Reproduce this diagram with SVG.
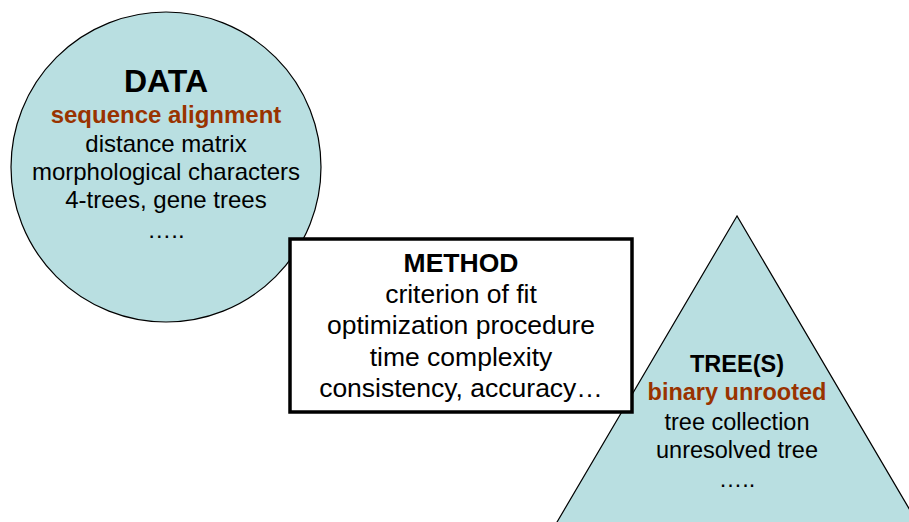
<svg xmlns="http://www.w3.org/2000/svg" width="909" height="522" viewBox="0 0 909 522">
<style>
.shape{fill:#B9DFE1;stroke:#000;stroke-width:1.2}
.box{fill:#fff;stroke:#000;stroke-width:3.5}
text{font-family:"Liberation Sans",Arial,sans-serif;text-anchor:middle;fill:#000}
.b{font-weight:bold}
.acc{fill:#993300;font-weight:bold}
</style>
<rect width="909" height="522" fill="#fff"/>
<g id="connectors"></g>
<g id="data">
<circle class="shape" cx="166" cy="167" r="155"/>
<text class="b" x="166" y="92" font-size="32">DATA</text>
<text class="acc" x="166" y="123" font-size="24">sequence alignment</text>
<text x="166" y="152" font-size="24">distance matrix</text>
<text x="166" y="180" font-size="24">morphological characters</text>
<text x="166" y="208" font-size="24">4-trees, gene trees</text>
<text x="166" y="238" font-size="24">…..</text>
</g>
<g id="trees">
<polygon class="shape" points="737,216 550,534 924,534"/>
<text class="b" x="737" y="372" font-size="23.5">TREE(S)</text>
<text class="acc" x="737" y="400" font-size="23.5">binary unrooted</text>
<text x="737" y="430" font-size="23.5">tree collection</text>
<text x="737" y="458" font-size="23.5">unresolved tree</text>
<text x="737" y="487" font-size="23.5">…..</text>
</g>
<g id="method">
<rect class="box" x="290" y="239" width="342" height="173"/>
<text class="b" x="461" y="272" font-size="26.5">METHOD</text>
<text x="461" y="303" font-size="26.5">criterion of fit</text>
<text x="461" y="334" font-size="26.5">optimization procedure</text>
<text x="461" y="366" font-size="26.5">time complexity</text>
<text x="461" y="397" font-size="26.5">consistency, accuracy…</text>
</g>
</svg>
